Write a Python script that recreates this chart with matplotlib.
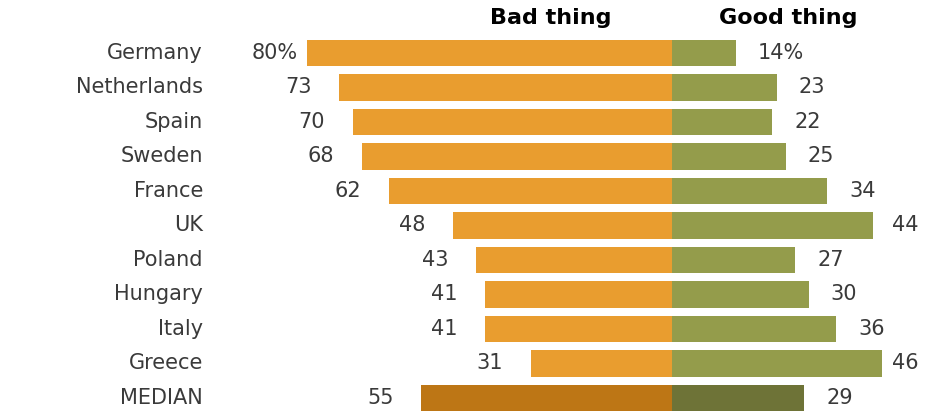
import matplotlib.pyplot as plt

countries = ["Germany", "Netherlands", "Spain", "Sweden", "France", "UK",
             "Poland", "Hungary", "Italy", "Greece", "MEDIAN"]
bad = [80, 73, 70, 68, 62, 48, 43, 41, 41, 31, 55]
good = [14, 23, 22, 25, 34, 44, 27, 30, 36, 46, 29]
bad_labels = ["80%", "73", "70", "68", "62", "48", "43", "41", "41", "31", "55"]
good_labels = ["14%", "23", "22", "25", "34", "44", "27", "30", "36", "46", "29"]

bad_col, good_col = "#E99D2F", "#949C4B"
bad_med, good_med = "#BD7615", "#6E7337"
txt = "#3a3a3a"

fig = plt.figure(figsize=(9.39, 4.11), dpi=100)
ax = fig.add_axes([0, 0, 1, 1])
ax.set_xlim(-147.4, 58.55)
ax.set_ylim(10.377, -1.536)
ax.axis("off")

y = list(range(len(countries)))
bcols = [bad_col] * (len(countries) - 1) + [bad_med]
gcols = [good_col] * (len(countries) - 1) + [good_med]
ax.barh(y, [-v for v in bad], height=0.78, color=bcols)
ax.barh(y, good, height=0.78, color=gcols)

for i, name in enumerate(countries):
    ax.text(-102.9, i, name, ha="right", va="center", fontsize=15, color=txt)
    pad = 2.0 if bad_labels[i].endswith("%") else 6.1
    ax.text(-bad[i] - pad, i, bad_labels[i], ha="right", va="center",
            fontsize=15, color=txt)
    ax.text(min(good[i] + 4.8, 48.2), i, good_labels[i], ha="left",
            va="center", fontsize=15, color=txt)

ax.text(-26.5, -1.0, "Bad thing", ha="center", va="center", fontsize=16,
        fontweight="bold", color="black")
ax.text(25.5, -1.0, "Good thing", ha="center", va="center", fontsize=16,
        fontweight="bold", color="black")

fig.savefig("out.png", dpi=100)
